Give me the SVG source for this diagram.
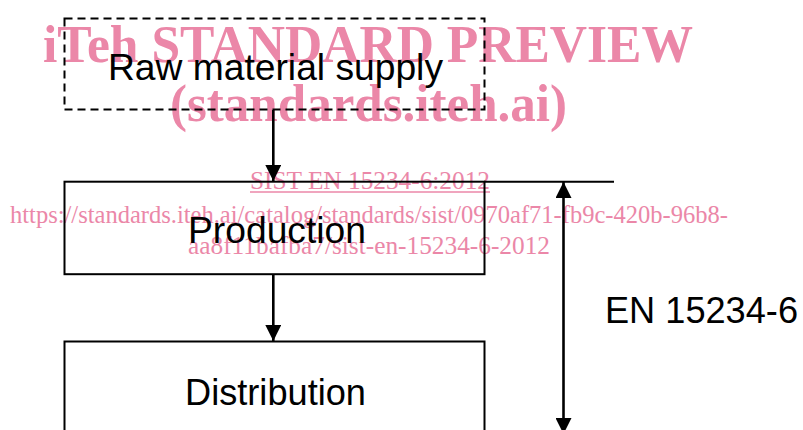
<svg xmlns="http://www.w3.org/2000/svg" width="803" height="430" viewBox="0 0 803 430">
  <style>
    .box { fill: none; stroke: #000; stroke-width: 2; }
    .dash { fill: none; stroke: #000; stroke-width: 2; stroke-dasharray: 8 5; }
    .flow { stroke: #000; stroke-width: 2.6; fill: none; }
    .thin { stroke: #000; stroke-width: 2; fill: none; }
    .label { font-family: "Liberation Sans", Arial, sans-serif; font-size: 37px; fill: #000; }
    .wm { font-family: "Liberation Serif", "Times New Roman", serif; fill: #eb87a8; }
    .wm-big { font-size: 52px; font-weight: bold; }
    .wm-small { font-size: 25px; }
  </style>
  <defs>
    <marker id="head" viewBox="0 0 16 16" refX="16" refY="8" markerWidth="16" markerHeight="16" markerUnits="userSpaceOnUse" orient="auto-start-reverse">
      <path d="M0,0 L16,8 L0,16 Z" fill="#000"/>
    </marker>
  </defs>

  <!-- publisher watermark -->
  <g id="watermark">
    <text class="wm wm-big" x="43" y="62" textLength="650" lengthAdjust="spacingAndGlyphs">iTeh STANDARD PREVIEW</text>
    <text class="wm wm-big" x="170" y="121" textLength="397" lengthAdjust="spacingAndGlyphs">(standards.iteh.ai)</text>
    <text class="wm wm-small" x="250" y="189" textLength="240" lengthAdjust="spacingAndGlyphs">SIST EN 15234-6:2012</text>
    <line x1="250" y1="192" x2="490" y2="192" stroke="#eb87a8" stroke-width="1.5"/>
    <text class="wm wm-small" x="10" y="223" textLength="718" lengthAdjust="spacingAndGlyphs">https://standards.iteh.ai/catalog/standards/sist/0970af71-fb9c-420b-96b8-</text>
    <text class="wm wm-small" x="188" y="254" textLength="362" lengthAdjust="spacingAndGlyphs">aa8f11bafba7/sist-en-15234-6-2012</text>
  </g>

  <!-- process steps -->
  <g id="raw-material-supply">
    <rect class="dash" x="64.5" y="18.5" width="420" height="91"/>
    <text class="label" x="108" y="79.5" textLength="335" lengthAdjust="spacingAndGlyphs">Raw material supply</text>
  </g>
  <g id="production">
    <rect class="box" x="64.5" y="181.7" width="420" height="92.5"/>
    <text class="label" x="188" y="243" textLength="178" lengthAdjust="spacingAndGlyphs">Production</text>
  </g>
  <g id="distribution">
    <rect class="box" x="64.5" y="341.5" width="420" height="110"/>
    <text class="label" x="185" y="405" textLength="181" lengthAdjust="spacingAndGlyphs">Distribution</text>
  </g>

  <!-- flow arrows and scope dimension -->
  <g id="connectors">
    <line class="flow" x1="273.3" y1="110" x2="273.3" y2="181" marker-end="url(#head)"/>
    <line class="flow" x1="273.3" y1="274" x2="273.3" y2="341" marker-end="url(#head)"/>
    <line class="thin" x1="484" y1="181.7" x2="614" y2="181.7"/>
    <line class="flow" x1="563.5" y1="182" x2="563.5" y2="434" marker-start="url(#head)" marker-end="url(#head)"/>
  </g>

  <g id="scope-label">
    <text class="label" x="605" y="322.5" textLength="193" lengthAdjust="spacingAndGlyphs">EN 15234-6</text>
  </g>
</svg>
